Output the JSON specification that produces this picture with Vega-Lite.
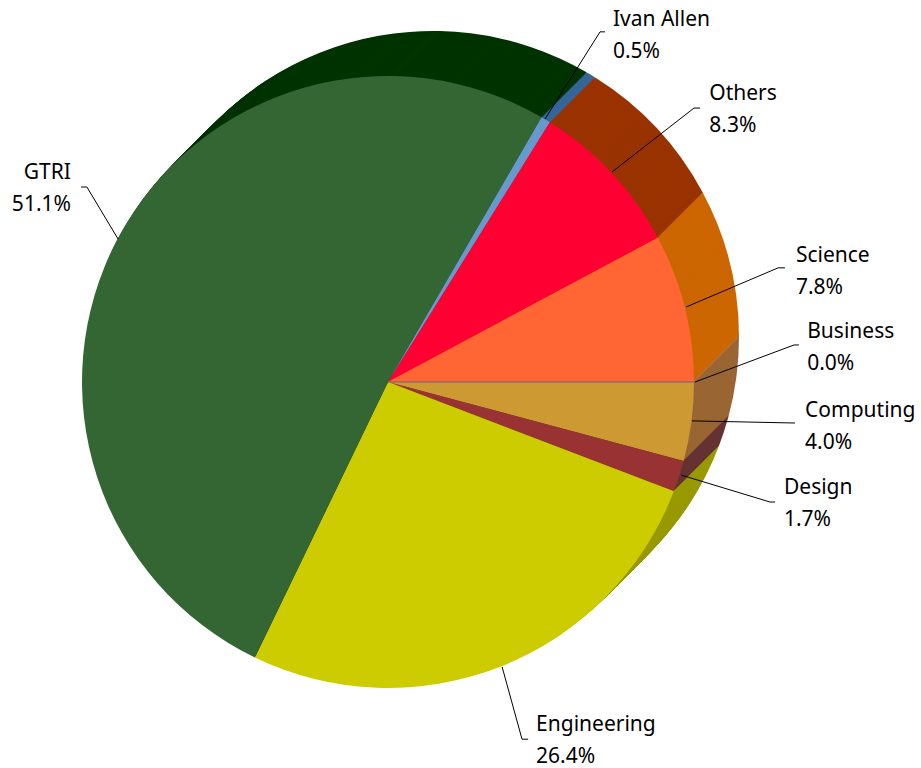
{"$schema":"https://vega.github.io/schema/vega-lite/v6.json","width":776,"height":764,"padding":{"left":0,"top":0,"right":145,"bottom":4},"autosize":"none","background":"white","config":{"view":{"stroke":null}},"datasets":{"shares":[{"school":"Computing","share":4.15},{"school":"Design","share":1.65},{"school":"Engineering","share":26.3},{"school":"GTRI","share":51.1},{"school":"Ivan Allen","share":0.5},{"school":"Others","share":8.3},{"school":"Science","share":7.8},{"school":"Business","share":0.0}],"leaders":[{"school":"Ivan Allen","seq":1,"x":0.513,"y":0.859},{"school":"Ivan Allen","seq":2,"x":0.693,"y":1.144},{"school":"Ivan Allen","seq":3,"x":0.709,"y":1.144},{"school":"Others","seq":1,"x":0.732,"y":0.686},{"school":"Others","seq":2,"x":1.0,"y":0.895},{"school":"Others","seq":3,"x":1.02,"y":0.895},{"school":"Science","seq":1,"x":0.974,"y":0.245},{"school":"Science","seq":2,"x":1.275,"y":0.373},{"school":"Science","seq":3,"x":1.297,"y":0.373},{"school":"Business","seq":1,"x":1.003,"y":0.0},{"school":"Business","seq":2,"x":1.327,"y":0.121},{"school":"Business","seq":3,"x":1.343,"y":0.121},{"school":"Computing","seq":1,"x":0.993,"y":-0.127},{"school":"Computing","seq":2,"x":1.33,"y":-0.134},{"school":"Design","seq":1,"x":0.958,"y":-0.304},{"school":"Design","seq":2,"x":1.248,"y":-0.392},{"school":"Design","seq":3,"x":1.265,"y":-0.392},{"school":"Engineering","seq":1,"x":0.373,"y":-0.931},{"school":"Engineering","seq":2,"x":0.438,"y":-1.167},{"school":"Engineering","seq":3,"x":0.458,"y":-1.167},{"school":"GTRI","seq":1,"x":-0.882,"y":0.467},{"school":"GTRI","seq":2,"x":-0.984,"y":0.637},{"school":"GTRI","seq":3,"x":-1.003,"y":0.637}],"labels":[{"school":"Ivan Allen","label":"Ivan Allen\n0.5%","x":0.735,"y":1.163},{"school":"Others","label":"Others\n8.3%","x":1.05,"y":0.922},{"school":"Science","label":"Science\n7.8%","x":1.333,"y":0.392},{"school":"Business","label":"Business\n0.0%","x":1.37,"y":0.144},{"school":"Computing","label":"Computing\n4.0%","x":1.363,"y":-0.114},{"school":"Design","label":"Design\n1.7%","x":1.294,"y":-0.366},{"school":"Engineering","label":"Engineering\n26.4%","x":0.484,"y":-1.14},{"school":"GTRI","label":"GTRI\n51.1%","x":-1.036,"y":0.663}]},"layer":[{"data":{"name":"shares"},"encoding":{"theta":{"field":"share","type":"quantitative","stack":true,"scale":{"range":[1.5708,7.854]}},"color":{"field":"school","type":"nominal","legend":null,"scale":{"domain":["Business","Computing","Design","Engineering","GTRI","Ivan Allen","Others","Science"],"range":["#996633","#996633","#663333","#999900","#003300","#336699","#993300","#CC6600"]}},"stroke":{"condition":{"test":"datum.school === 'Business'","value":"#A67C52"},"value":null}},"layer":[{"mark":{"type":"arc","radius":306,"strokeWidth":0.7,"xOffset":45,"yOffset":-45}},{"mark":{"type":"arc","radius":306,"strokeWidth":0.7,"xOffset":44,"yOffset":-44}},{"mark":{"type":"arc","radius":306,"strokeWidth":0.7,"xOffset":43,"yOffset":-43}},{"mark":{"type":"arc","radius":306,"strokeWidth":0.7,"xOffset":42,"yOffset":-42}},{"mark":{"type":"arc","radius":306,"strokeWidth":0.7,"xOffset":41,"yOffset":-41}},{"mark":{"type":"arc","radius":306,"strokeWidth":0.7,"xOffset":40,"yOffset":-40}},{"mark":{"type":"arc","radius":306,"strokeWidth":0.7,"xOffset":39,"yOffset":-39}},{"mark":{"type":"arc","radius":306,"strokeWidth":0.7,"xOffset":38,"yOffset":-38}},{"mark":{"type":"arc","radius":306,"strokeWidth":0.7,"xOffset":37,"yOffset":-37}},{"mark":{"type":"arc","radius":306,"strokeWidth":0.7,"xOffset":36,"yOffset":-36}},{"mark":{"type":"arc","radius":306,"strokeWidth":0.7,"xOffset":35,"yOffset":-35}},{"mark":{"type":"arc","radius":306,"strokeWidth":0.7,"xOffset":34,"yOffset":-34}},{"mark":{"type":"arc","radius":306,"strokeWidth":0.7,"xOffset":33,"yOffset":-33}},{"mark":{"type":"arc","radius":306,"strokeWidth":0.7,"xOffset":32,"yOffset":-32}},{"mark":{"type":"arc","radius":306,"strokeWidth":0.7,"xOffset":31,"yOffset":-31}},{"mark":{"type":"arc","radius":306,"strokeWidth":0.7,"xOffset":30,"yOffset":-30}},{"mark":{"type":"arc","radius":306,"strokeWidth":0.7,"xOffset":29,"yOffset":-29}},{"mark":{"type":"arc","radius":306,"strokeWidth":0.7,"xOffset":28,"yOffset":-28}},{"mark":{"type":"arc","radius":306,"strokeWidth":0.7,"xOffset":27,"yOffset":-27}},{"mark":{"type":"arc","radius":306,"strokeWidth":0.7,"xOffset":26,"yOffset":-26}},{"mark":{"type":"arc","radius":306,"strokeWidth":0.7,"xOffset":25,"yOffset":-25}},{"mark":{"type":"arc","radius":306,"strokeWidth":0.7,"xOffset":24,"yOffset":-24}},{"mark":{"type":"arc","radius":306,"strokeWidth":0.7,"xOffset":23,"yOffset":-23}},{"mark":{"type":"arc","radius":306,"strokeWidth":0.7,"xOffset":22,"yOffset":-22}},{"mark":{"type":"arc","radius":306,"strokeWidth":0.7,"xOffset":21,"yOffset":-21}},{"mark":{"type":"arc","radius":306,"strokeWidth":0.7,"xOffset":20,"yOffset":-20}},{"mark":{"type":"arc","radius":306,"strokeWidth":0.7,"xOffset":19,"yOffset":-19}},{"mark":{"type":"arc","radius":306,"strokeWidth":0.7,"xOffset":18,"yOffset":-18}},{"mark":{"type":"arc","radius":306,"strokeWidth":0.7,"xOffset":17,"yOffset":-17}},{"mark":{"type":"arc","radius":306,"strokeWidth":0.7,"xOffset":16,"yOffset":-16}},{"mark":{"type":"arc","radius":306,"strokeWidth":0.7,"xOffset":15,"yOffset":-15}},{"mark":{"type":"arc","radius":306,"strokeWidth":0.7,"xOffset":14,"yOffset":-14}},{"mark":{"type":"arc","radius":306,"strokeWidth":0.7,"xOffset":13,"yOffset":-13}},{"mark":{"type":"arc","radius":306,"strokeWidth":0.7,"xOffset":12,"yOffset":-12}},{"mark":{"type":"arc","radius":306,"strokeWidth":0.7,"xOffset":11,"yOffset":-11}},{"mark":{"type":"arc","radius":306,"strokeWidth":0.7,"xOffset":10,"yOffset":-10}},{"mark":{"type":"arc","radius":306,"strokeWidth":0.7,"xOffset":9,"yOffset":-9}},{"mark":{"type":"arc","radius":306,"strokeWidth":0.7,"xOffset":8,"yOffset":-8}},{"mark":{"type":"arc","radius":306,"strokeWidth":0.7,"xOffset":7,"yOffset":-7}},{"mark":{"type":"arc","radius":306,"strokeWidth":0.7,"xOffset":6,"yOffset":-6}},{"mark":{"type":"arc","radius":306,"strokeWidth":0.7,"xOffset":5,"yOffset":-5}},{"mark":{"type":"arc","radius":306,"strokeWidth":0.7,"xOffset":4,"yOffset":-4}},{"mark":{"type":"arc","radius":306,"strokeWidth":0.7,"xOffset":3,"yOffset":-3}},{"mark":{"type":"arc","radius":306,"strokeWidth":0.7,"xOffset":2,"yOffset":-2}},{"mark":{"type":"arc","radius":306,"strokeWidth":0.7,"xOffset":1,"yOffset":-1}}]},{"data":{"name":"shares"},"mark":{"type":"arc","radius":306,"strokeWidth":0.6},"encoding":{"theta":{"field":"share","type":"quantitative","stack":true,"scale":{"range":[1.5708,7.854]}},"color":{"field":"school","type":"nominal","legend":null,"scale":{"domain":["Business","Computing","Design","Engineering","GTRI","Ivan Allen","Others","Science"],"range":["#666699","#CC9933","#993333","#CCCC00","#336633","#6699CC","#FF0033","#FF6633"]}},"stroke":{"condition":{"test":"datum.school === 'Business'","value":"#666699"},"value":null}}},{"data":{"name":"leaders"},"mark":{"type":"line","color":"#000000","strokeWidth":1,"interpolate":"linear"},"encoding":{"x":{"field":"x","type":"quantitative","axis":null,"scale":{"domain":[-1.268,1.268],"nice":false,"zero":false}},"y":{"field":"y","type":"quantitative","axis":null,"scale":{"domain":[-1.248,1.248],"nice":false,"zero":false}},"detail":{"field":"school"},"order":{"field":"seq"}}},{"data":{"name":"labels"},"transform":[{"filter":"datum.school !== 'GTRI'"}],"mark":{"type":"text","align":"left","baseline":"alphabetic","font":"Noto Sans","fontSize":21,"lineBreak":"\n","lineHeight":32,"color":"#000000"},"encoding":{"x":{"field":"x","type":"quantitative"},"y":{"field":"y","type":"quantitative"},"text":{"field":"label"}}},{"data":{"name":"labels"},"transform":[{"filter":"datum.school === 'GTRI'"}],"mark":{"type":"text","align":"right","baseline":"alphabetic","font":"Noto Sans","fontSize":21,"lineBreak":"\n","lineHeight":32,"color":"#000000"},"encoding":{"x":{"field":"x","type":"quantitative"},"y":{"field":"y","type":"quantitative"},"text":{"field":"label"}}}],"resolve":{"scale":{"color":"independent"}}}
